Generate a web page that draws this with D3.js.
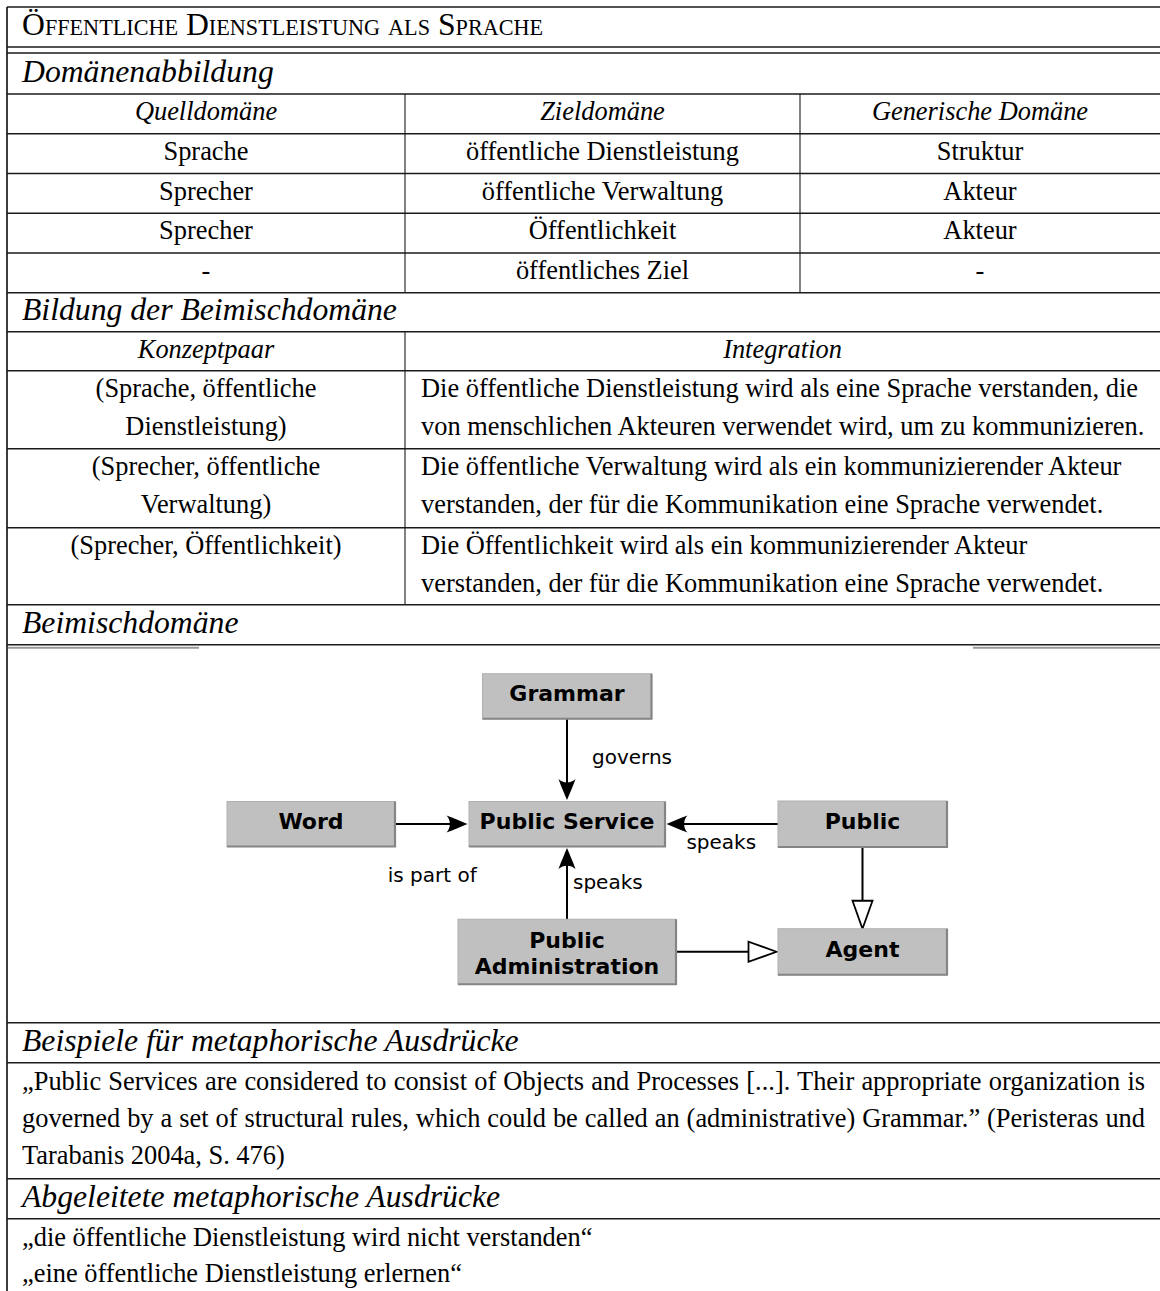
<!DOCTYPE html>
<html><head><meta charset="utf-8">
<script src="https://cdn.jsdelivr.net/npm/d3@7"></script>
<style>html,body{margin:0;padding:0;background:#fff}</style>
</head><body>
<svg id="chart" width="1160" height="1291"></svg>
<script>
// ---------------- DATA ----------------
const title = "Öffentliche Dienstleistung als Sprache";
const sectionTitles = ["Domänenabbildung", "Bildung der Beimischdomäne", "Beimischdomäne",
  "Beispiele für metaphorische Ausdrücke", "Abgeleitete metaphorische Ausdrücke"];
const mappingHeaders = ["Quelldomäne", "Zieldomäne", "Generische Domäne"];
const mappingRows = [
  ["Sprache", "öffentliche Dienstleistung", "Struktur"],
  ["Sprecher", "öffentliche Verwaltung", "Akteur"],
  ["Sprecher", "Öffentlichkeit", "Akteur"],
  ["-", "öffentliches Ziel", "-"]
];
const blendHeaders = ["Konzeptpaar", "Integration"];
const blendPairs = [
  ["(Sprache, öffentliche", "Dienstleistung)"],
  ["(Sprecher, öffentliche", "Verwaltung)"],
  ["(Sprecher, Öffentlichkeit)"]
];
const blendIntegration = [
  ["Die öffentliche Dienstleistung wird als eine Sprache verstanden, die",
   "von menschlichen Akteuren verwendet wird, um zu kommunizieren."],
  ["Die öffentliche Verwaltung wird als ein kommunizierender Akteur",
   "verstanden, der für die Kommunikation eine Sprache verwendet."],
  ["Die Öffentlichkeit wird als ein kommunizierender Akteur",
   "verstanden, der für die Kommunikation eine Sprache verwendet."]
];
const exampleLines = [
  "„Public Services are considered to consist of Objects and Processes [...]. Their appropriate organization is",
  "governed by a set of structural rules, which could be called an (administrative) Grammar.” (Peristeras und",
  "Tarabanis 2004a, S. 476)"
];
const exampleJustified = [true, true, false];
const derivedLines = [
  "„die öffentliche Dienstleistung wird nicht verstanden“",
  "„eine öffentliche Dienstleistung erlernen“"
];
// diagram: logical grid cell (col,row) of each concept
const nodes = [
  {id: "grammar", label: ["Grammar"], col: 1, row: 0},
  {id: "word", label: ["Word"], col: 0, row: 1},
  {id: "service", label: ["Public Service"], col: 1, row: 1},
  {id: "public", label: ["Public"], col: 2, row: 1},
  {id: "admin", label: ["Public", "Administration"], col: 1, row: 2},
  {id: "agent", label: ["Agent"], col: 2, row: 2}
];
const edges = [
  {source: "grammar", target: "service", label: "governs", kind: "assoc"},
  {source: "word", target: "service", label: "is part of", kind: "assoc"},
  {source: "public", target: "service", label: "speaks", kind: "assoc"},
  {source: "admin", target: "service", label: "speaks", kind: "assoc"},
  {source: "public", target: "agent", label: "", kind: "generalization"},
  {source: "admin", target: "agent", label: "", kind: "generalization"}
];

// ---------------- LAYOUT ----------------
const W = 1160;
const L = 7, R = 1160;
const colEdges3 = [L, 405, 800, R];
const colEdges2 = [L, 405, R];
const SERIF = "'Liberation Serif','Times New Roman',serif";
const SANS = "'DejaVu Sans',sans-serif";
const FS = 26.4, FS_L = 31.7;
const lineCol = "#1a1a1a";

const svg = d3.select("#chart");
svg.append("rect").attr("width", W).attr("height", 1291).attr("fill", "#fff");
const gLines = svg.append("g");
const gText = svg.append("g").attr("font-family", SERIF).attr("fill", "#000");

function hline(y, x1 = L, x2 = R, w = 1.7) {
  gLines.append("line").attr("x1", x1).attr("x2", x2).attr("y1", y).attr("y2", y)
    .attr("stroke", lineCol).attr("stroke-width", w);
}
function vline(x, y1, y2, w = 1.1) {
  gLines.append("line").attr("x1", x).attr("x2", x).attr("y1", y1).attr("y2", y2)
    .attr("stroke", lineCol).attr("stroke-width", w);
}
function txt(s, x, y, opts = {}) {
  return gText.append("text").attr("x", x).attr("y", y)
    .attr("font-size", opts.size || FS)
    .attr("font-style", opts.italic ? "italic" : null)
    .attr("text-anchor", opts.anchor || "start")
    .text(s);
}

// title with small caps
const titleText = gText.append("text").attr("x", 22).attr("y", 35).attr("font-size", FS_L);
{
  const runs = [];
  for (const ch of title) {
    const big = ch === " " || ch !== ch.toLowerCase();
    const last = runs[runs.length - 1];
    if (last && last.big === big) last.s += ch; else runs.push({big, s: ch});
  }
  titleText.selectAll("tspan").data(runs).join("tspan")
    .attr("font-size", d => d.big ? FS_L : FS_L * 0.7)
    .text(d => d.big ? d.s : d.s.toUpperCase());
}

// vertical positions
let y = 7;
hline(y); y = 47; hline(y);
y = 53; hline(y);
const padSection = 28.5, padRow = 26, rowH = 39.75, lineStep = 38.5;

// Section 1: mapping
txt(sectionTitles[0], 22, y + padSection, {size: FS_L, italic: true});
y += 41; hline(y);
const mapTop = y;
const center3 = i => (colEdges3[i] + colEdges3[i + 1]) / 2;
mappingHeaders.forEach((h, i) => txt(h, center3(i), y + padRow, {italic: true, anchor: "middle"}));
y += rowH; hline(y);
mappingRows.forEach(r => {
  r.forEach((c, i) => txt(c, center3(i), y + padRow, {anchor: "middle"}));
  y += rowH; hline(y);
});
vline(colEdges3[1], mapTop, y); vline(colEdges3[2], mapTop, y);

// Section 2: blend formation
txt(sectionTitles[1], 22, y + padSection - 1, {size: FS_L, italic: true});
y += 39; hline(y);
const blendTop = y;
const center2 = i => (colEdges2[i] + colEdges2[i + 1]) / 2;
blendHeaders.forEach((h, i) => txt(h, center2(i), y + padRow, {italic: true, anchor: "middle"}));
y += 39; hline(y);
const cellHeights = [78, 79, 77];
blendPairs.forEach((pair, k) => {
  pair.forEach((s, j) => txt(s, center2(0), y + padRow + j * lineStep, {anchor: "middle"}));
  blendIntegration[k].forEach((s, j) => txt(s, colEdges2[1] + 16, y + padRow + j * lineStep));
  y += cellHeights[k]; hline(y);
});
vline(colEdges2[1], blendTop, y);

// Section 3: blended domain diagram
txt(sectionTitles[2], 22, y + padSection, {size: FS_L, italic: true});
y += 40; hline(y);
const diagTop = y;
gLines.append("line").attr("x1", 8).attr("x2", 199).attr("y1", diagTop + 3).attr("y2", diagTop + 3)
  .attr("stroke", "#9a9a9a").attr("stroke-width", 2);
gLines.append("line").attr("x1", 973).attr("x2", R).attr("y1", diagTop + 3).attr("y2", diagTop + 3)
  .attr("stroke", "#9a9a9a").attr("stroke-width", 2);

const colX = d3.scaleOrdinal().domain([0, 1, 2]).range([311, 567, 862.5]);
const rowY = d3.scaleLinear().domain([0, 2]).range([diagTop + 51.5, diagTop + 307]);
const boxSize = {grammar: [169, 45], word: [168, 45], service: [196, 45], public: [169, 46], admin: [218, 65], agent: [169, 46]};
const labelPlace = [
  {anchor: "start", dx: 25, dy: 5},
  {anchor: "middle", dx: 1, dy: 58},
  {anchor: "middle", dx: -1, dy: 25},
  {anchor: "start", dx: 6, dy: 5.5}
];
const byId = Object.fromEntries(nodes.map(n => [n.id, n]));
const gd = svg.append("g");

const gEdges = gd.append("g");
edges.forEach((e, i) => {
  const s = byId[e.source], t = byId[e.target];
  const sx = colX(s.col), sy = rowY(s.row), tx = colX(t.col), ty = rowY(t.row);
  const [sw, sh] = boxSize[s.id], [tw, th] = boxSize[t.id];
  let x1, y1, x2, y2, ang;
  const gap = 1.5;
  if (s.row === t.row) {
    const dir = Math.sign(tx - sx);
    x1 = sx + dir * sw / 2; y1 = sy; x2 = tx - dir * (tw / 2 + gap); y2 = sy; ang = dir > 0 ? 0 : 180;
  } else {
    const dir = Math.sign(ty - sy);
    x1 = sx; y1 = sy + dir * sh / 2; x2 = sx; y2 = ty - dir * (th / 2 + gap * (e.kind === "assoc" ? 1 : 0)); ang = dir > 0 ? 90 : -90;
  }
  const back = e.kind === "assoc" ? 12 : 28;
  const rad = ang * Math.PI / 180;
  gEdges.append("line").attr("x1", x1).attr("y1", y1)
    .attr("x2", x2 - Math.cos(rad) * back).attr("y2", y2 - Math.sin(rad) * back)
    .attr("stroke", "#000").attr("stroke-width", 2);
  const head = gEdges.append("path").attr("transform", `translate(${x2},${y2}) rotate(${ang})`);
  if (e.kind === "assoc") {
    head.attr("d", "M0,0 C-6,-2.5 -14,-6 -21,-8.5 C-16.5,-4 -16.5,4 -21,8.5 C-14,6 -6,2.5 0,0 Z").attr("fill", "#000");
  } else {
    head.attr("d", "M0,0 L-28,-10 L-28,10 Z").attr("fill", "#fff").attr("stroke", "#000").attr("stroke-width", 1.8)
      .attr("stroke-linejoin", "miter");
  }
  if (e.label) {
    const p = labelPlace[i];
    gd.append("text").attr("x", (x1 + x2) / 2 + p.dx).attr("y", (y1 + y2) / 2 + p.dy)
      .attr("text-anchor", p.anchor).attr("font-family", SANS).attr("font-size", 20).attr("fill", "#000")
      .text(e.label);
  }
});

const gNodes = gd.append("g");
nodes.forEach(n => {
  const cx = colX(n.col), cy = rowY(n.row), [w, h] = boxSize[n.id];
  const g = gNodes.append("g");
  g.append("rect").attr("x", cx - w / 2).attr("y", cy - h / 2).attr("width", w).attr("height", h)
    .attr("fill", "#c0c0c0").attr("stroke", "#b0b0b0").attr("stroke-width", 1);
  g.append("path").attr("d", `M${cx + w / 2},${cy - h / 2} V${cy + h / 2} H${cx - w / 2}`)
    .attr("fill", "none").attr("stroke", "#858585").attr("stroke-width", 2.2);
  const lines = n.label;
  const step = 26;
  const base = cy + 5 - (lines.length - 1) * 8.5;
  lines.forEach((s, j) => {
    g.append("text").attr("x", cx).attr("y", base + j * step).attr("text-anchor", "middle")
      .attr("font-family", SANS).attr("font-weight", "bold").attr("font-size", 22).attr("fill", "#000").text(s);
  });
});

y += 378; hline(y);

// Section 4: examples
txt(sectionTitles[3], 22, y + padSection, {size: FS_L, italic: true});
y += 40; hline(y);
exampleLines.forEach((s, j) => {
  const t = txt(s, 22, y + 27.5 + j * 37);
  if (exampleJustified[j]) {
    const len = t.node().getComputedTextLength();
    const spaces = (s.match(/ /g) || []).length;
    const ws = (1145 - 22 - len) / spaces;
    t.style("word-spacing", ws + "px");
  }
});
y += 116; hline(y);

// Section 5: derived expressions
txt(sectionTitles[4], 22, y + padSection, {size: FS_L, italic: true});
y += 40; hline(y);
derivedLines.forEach((s, j) => txt(s, 22, y + 27 + j * 36));

// left border
vline(L, 7, 1291, 1.7);
</script>
</body></html>
